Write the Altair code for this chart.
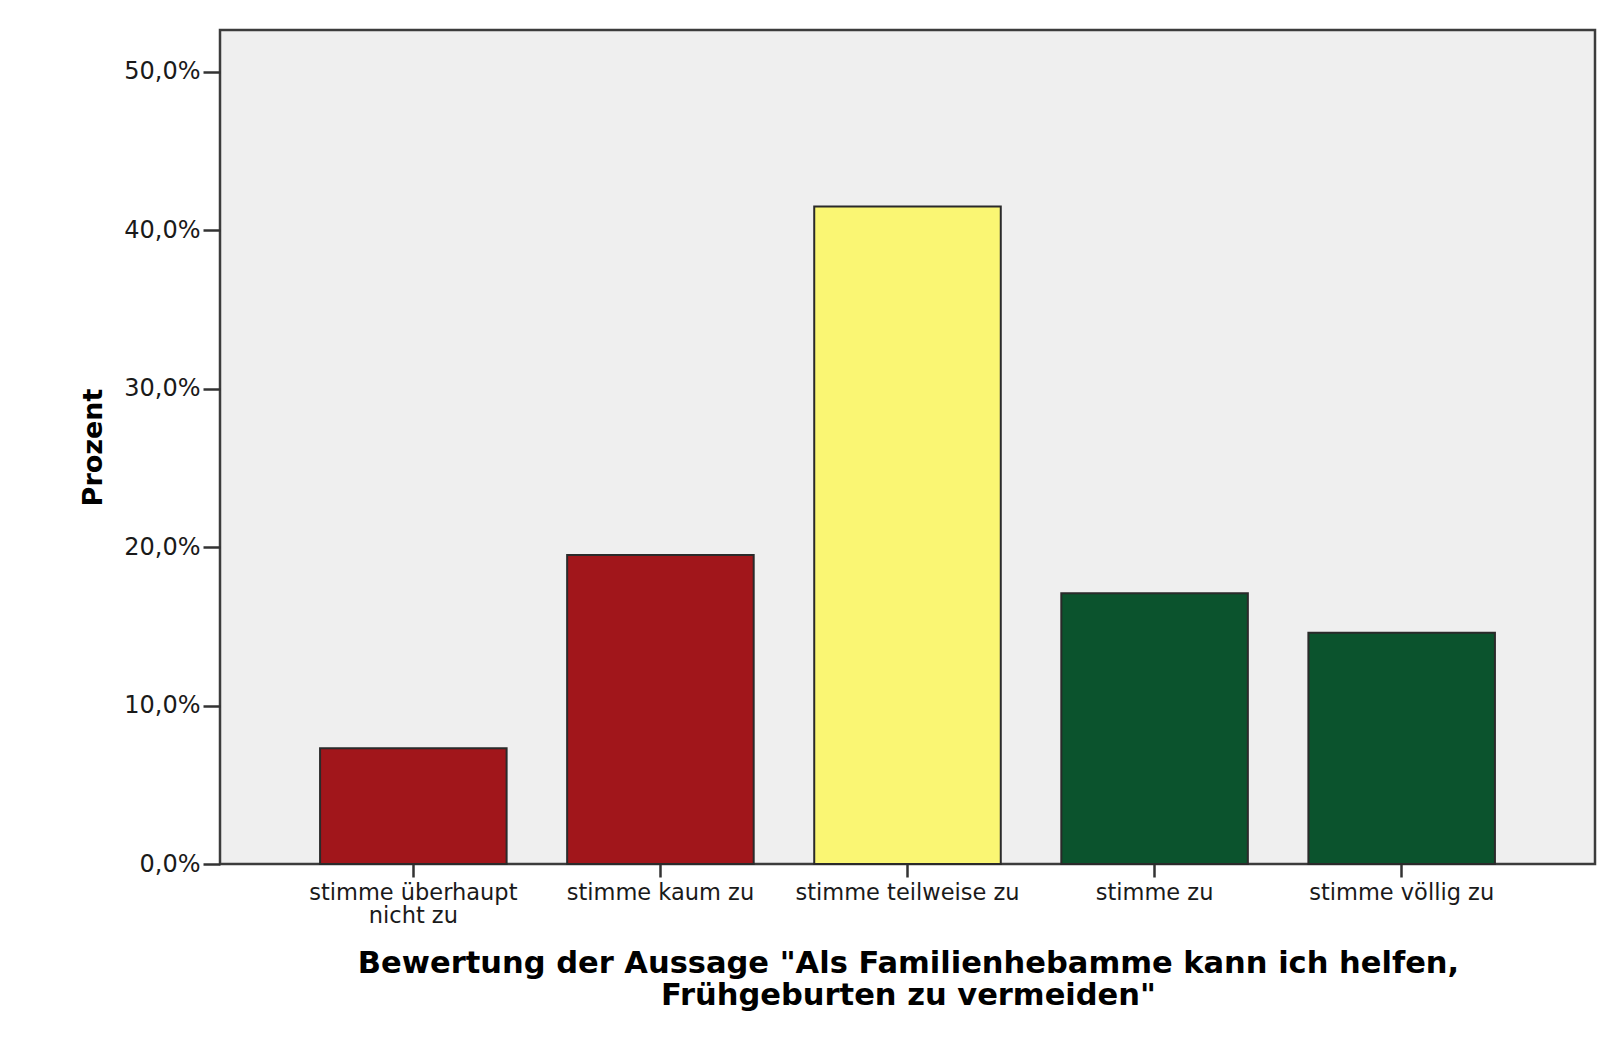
import altair as alt
import pandas as pd

categories = [
    "stimme überhaupt nicht zu",
    "stimme kaum zu",
    "stimme teilweise zu",
    "stimme zu",
    "stimme völlig zu",
]
percent = [7.3, 19.5, 41.5, 17.1, 14.6]
bar_colors = ["#A1161B", "#A1161B", "#FAF673", "#0B532D", "#0B532D"]
y_ticks = [0, 10, 20, 30, 40, 50]

df = pd.DataFrame({"cat": categories, "pct": percent, "color": bar_colors})

label_expr = (
    "datum.label == 'stimme überhaupt nicht zu' ? "
    "['stimme überhaupt', 'nicht zu'] : datum.label"
)

chart = (
    alt.Chart(df)
    .mark_bar(stroke="#2a2a2a", strokeWidth=2)
    .encode(
        x=alt.X(
            "cat:N",
            sort=categories,
            scale=alt.Scale(paddingInner=0.245, paddingOuter=0.405),
            axis=alt.Axis(
                title=[
                    'Bewertung der Aussage "Als Familienhebamme kann ich helfen,',
                    'Frühgeburten zu vermeiden"',
                ],
                labelAngle=0,
                labelExpr=label_expr,
                labelLimit=0,
                labelFont="DejaVu Sans",
                labelFontSize=22.5,
                labelColor="#1a1a1a",
                labelLineHeight=23,
                labelPadding=4,
                labelBaseline="top",
                tickSize=13,
                tickWidth=2.5,
                tickColor="#333333",
                domain=False,
                titleFont="DejaVu Sans",
                titleFontSize=30.5,
                titleFontWeight="bold",
                titleColor="#000000",
                titleLineHeight=32,
                titleBaseline="alphabetic",
                titleAlign="center",
                titleLimit=0,
                titleX=688,
                titleY=108,
            ),
        ),
        y=alt.Y(
            "pct:Q",
            scale=alt.Scale(domain=[0, 52.65], nice=False),
            axis=alt.Axis(
                title="Prozent",
                values=y_ticks,
                labelExpr="replace(format(datum.value, '.1f'), '.', ',') + '%'",
                labelFont="DejaVu Sans",
                labelFontSize=24,
                labelColor="#1a1a1a",
                labelPadding=3,
                tickSize=17,
                tickWidth=2.5,
                tickColor="#333333",
                grid=False,
                domain=False,
                titleFont="DejaVu Sans",
                titleFontSize=27,
                titleFontWeight="bold",
                titleColor="#000000",
                titleAngle=270,
                titleBaseline="alphabetic",
                titleAlign="center",
                titleX=-119,
                titleY=417,
            ),
        ),
        fill=alt.Fill("color:N", scale=None, legend=None),
    )
    .properties(
        width=1375,
        height=834,
        autosize=alt.AutoSizeParams(type="none"),
        padding={"left": 212, "top": 22, "right": 20, "bottom": 175},
        background="#FFFFFF",
    )
    .configure_view(fill="#EFEFEF", stroke="#3c3c3c", strokeWidth=2.5)
)

chart.save("out.html", embed_options={"renderer": "svg", "actions": False})
